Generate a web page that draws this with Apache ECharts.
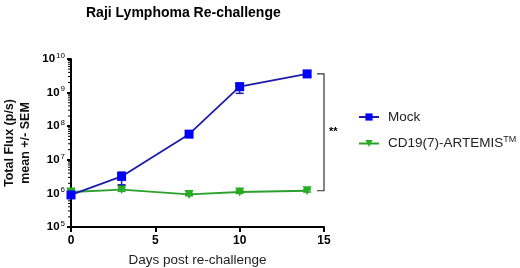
<!DOCTYPE html>
<html><head><meta charset="utf-8">
<script src="https://cdn.jsdelivr.net/npm/echarts@6/dist/echarts.min.js"></script>
<style>html,body{margin:0;padding:0;background:#fff}#c{width:520px;height:268px}</style>
</head><body><div id="c"></div>
<script>
var days = [0, 3, 7, 10, 14];
var mockMean = [9e5, 3.2e6, 5.8e7, 1.5e9, 3.6e9];
var mockLow  = [7.8e5, 1.8e6, 5.1e7, 9.5e8, 3.1e9];
var mockHigh = [1.05e6, 4.3e6, 6.6e7, 1.9e9, 4.2e9];
var cdMean = [1.1e6, 1.3e6, 9.3e5, 1.1e6, 1.2e6];
var cdLow  = [0.95e6, 1.15e6, 0.85e6, 1.0e6, 1.1e6];
var cdHigh = [1.3e6, 1.45e6, 1.0e6, 1.2e6, 1.3e6];
var xTicks = [0, 5, 10, 15];
var seriesNames = ['Mock', 'CD19(7)-ARTEMIS'];
var sigLabel = '**';

var FONT = 'Liberation Sans';
var blueLine = '#1c1ca8', blueMark = '#0000ff';
var greenLine = '#2ca02c', greenMark = '#22b022';

// minor tick values of the log axis (2..9 x 10^n)
var minorVals = [];
for (var n = 5; n < 10; n++) for (var k = 2; k <= 9; k++) minorVals.push([0, k * Math.pow(10, n)]);

function pts(m){ return days.map(function(d,i){ return [d, m[i]]; }); }
function errs(lo,hi){ return days.map(function(d,i){ return [d, lo[i], hi[i]]; }); }
function errRender(color){
  return function(params, api){
    var x = api.value(0);
    var a = api.coord([x, api.value(1)]);
    var b = api.coord([x, api.value(2)]);
    var w = 4;
    return {type:'group', children:[
      {type:'line', shape:{x1:a[0],y1:a[1],x2:b[0],y2:b[1]}, style:{stroke:color,lineWidth:1.5}},
      {type:'line', shape:{x1:a[0]-w,y1:a[1],x2:a[0]+w,y2:a[1]}, style:{stroke:color,lineWidth:1.5}},
      {type:'line', shape:{x1:b[0]-w,y1:b[1],x2:b[0]+w,y2:b[1]}, style:{stroke:color,lineWidth:1.5}}
    ]};
  };
}
var last = days.length - 1;
var bracketData = [[15, mockMean[last], cdMean[last]]];

var chart = echarts.init(document.getElementById('c'), null, {renderer:'canvas'});
chart.setOption({
  animation:false,
  textStyle:{fontFamily:FONT},
  title:{text:'Raji Lymphoma Re-challenge', left:81, top:1,
    textStyle:{fontFamily:FONT, fontWeight:'bold', fontSize:14, color:'#000'}},
  grid:{left:71, right:196, top:59, bottom:41, outerBoundsMode:'none', containLabel:false},
  legend:{orient:'vertical', left:353, top:105, itemGap:11, itemWidth:20, itemHeight:9,
    data:seriesNames,
    textStyle:{fontFamily:FONT, fontSize:13.5, color:'#222', padding:[0,0,0,4],
      rich:{n:{fontFamily:FONT,fontSize:13.5,color:'#222'}, s:{fontFamily:FONT,fontSize:9,color:'#222',verticalAlign:'top',padding:[0,0,8,0]}}},
    formatter:function(n){ return n === seriesNames[1] ? '{n|' + n + '}{s|TM}' : n; }
  },
  xAxis:{type:'value', min:0, max:15, interval:5,
    name:'Days post re-challenge', nameLocation:'middle', nameGap:26,
    nameTextStyle:{fontFamily:FONT, fontSize:13.5, color:'#222'},
    axisLine:{lineStyle:{color:'#000', width:2}},
    axisTick:{length:5, lineStyle:{color:'#000', width:2}},
    axisLabel:{fontFamily:FONT, fontWeight:'bold', fontSize:12, color:'#000', margin:8},
    splitLine:{show:false}
  },
  yAxis:{type:'log', logBase:10, min:1e5, max:1e10,
    name:'Total Flux (p/s)\nmean +/- SEM', nameLocation:'middle', nameGap:37, nameRotate:90,
    nameTextStyle:{fontFamily:FONT, fontWeight:'bold', fontSize:12.5, color:'#111', lineHeight:16},
    axisLine:{lineStyle:{color:'#000', width:2}},
    axisTick:{length:4, lineStyle:{color:'#000', width:2}},
    minorTick:{show:false},
    axisLabel:{margin:6, formatter:function(v){ return '{b|10}{s|' + Math.round(Math.log10(v)) + '}'; },
      rich:{b:{fontFamily:FONT,fontWeight:'bold',fontSize:11.5,color:'#000'},
            s:{fontFamily:FONT,fontSize:8,color:'#000',verticalAlign:'top',padding:[0,0,7,1]}}},
    splitLine:{show:false}
  },
  series:[
    {type:'custom', name:'minorTicks', clip:false, silent:true, data:minorVals, z:2,
      renderItem:function(params, api){
        var p = api.coord([api.value(0), api.value(1)]);
        return {type:'line', shape:{x1:p[0]-3,y1:p[1],x2:p[0],y2:p[1]}, style:{stroke:'#000',lineWidth:1}};
      }},
    {type:'custom', name:'cdErr', renderItem:errRender(greenLine), data:errs(cdLow,cdHigh), z:3, silent:true},
    {type:'line', name:seriesNames[1], data:pts(cdMean), symbol:'triangle', symbolRotate:180, symbolSize:9,
      lineStyle:{color:greenLine, width:1.8}, itemStyle:{color:greenMark}, z:4},
    {type:'custom', name:'mockErr', renderItem:errRender(blueLine), data:errs(mockLow,mockHigh), z:5, silent:true},
    {type:'line', name:seriesNames[0], data:pts(mockMean), symbol:'rect', symbolSize:9,
      lineStyle:{color:blueLine, width:1.8}, itemStyle:{color:blueMark}, z:6},
    {type:'custom', name:'bracket', clip:false, silent:true, data:bracketData,
      renderItem:function(params, api){
        var x = api.value(0);
        var t = api.coord([x, api.value(1)]);
        var b = api.coord([x, api.value(2)]);
        var L = 7;
        return {type:'group', children:[
          {type:'polyline', shape:{points:[[t[0]-L,t[1]],[t[0],t[1]],[b[0],b[1]],[b[0]-L,b[1]]]},
            style:{stroke:'#333', lineWidth:1.2, fill:null}},
          {type:'text', x:t[0]+5, y:(t[1]+b[1])/2, style:{text:sigLabel, fill:'#000',
            font:'bold 11px "Liberation Sans"', textVerticalAlign:'middle'}}
        ]};
      }}
  ]
});
</script></body></html>
